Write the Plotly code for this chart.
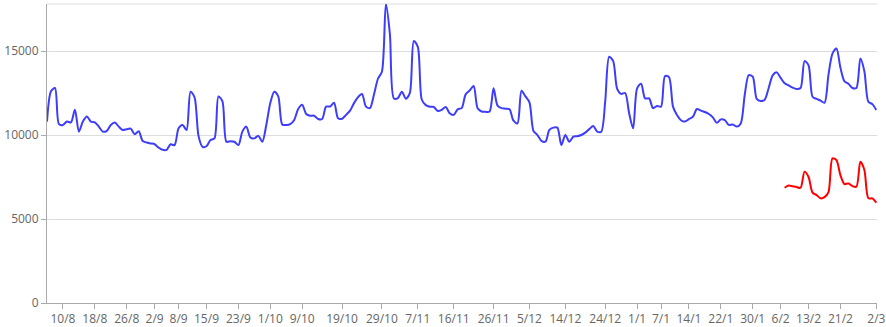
import pandas as pd
import plotly.graph_objects as go

start_date = "2022-08-06"

blue_values = [
    10.8, 12.6, 12.8, 10.65, 10.6, 10.8, 10.75, 11.5, 10.2, 10.8,
    11.1, 10.8, 10.75, 10.5, 10.2, 10.25, 10.6, 10.75, 10.5, 10.3,
    10.35, 10.38, 10.05, 10.22, 9.64, 9.55, 9.5, 9.45, 9.25, 9.12,
    9.12, 9.45, 9.4, 10.4, 10.6, 10.3, 12.58, 12.25, 9.95, 9.3,
    9.33, 9.7, 9.8, 12.3, 12.0, 9.6, 9.63, 9.6, 9.4, 10.2,
    10.5, 9.85, 9.8, 9.95, 9.6, 10.6, 11.9, 12.58, 12.3, 10.63,
    10.6, 10.65, 10.9, 11.55, 11.8, 11.25, 11.15, 11.15, 10.95, 10.95,
    11.69, 11.7, 11.92, 11.0, 10.97, 11.2, 11.45, 11.9, 12.25, 12.44,
    11.69, 11.6, 12.4, 13.35, 13.77, 17.8, 16.0, 12.18, 12.2, 12.58,
    12.16, 12.5, 15.6, 15.25, 12.1, 11.78, 11.68, 11.67, 11.43, 11.5,
    11.67, 11.29, 11.2, 11.53, 11.6, 12.42, 12.65, 12.92, 11.59, 11.4,
    11.38, 11.4, 12.78, 11.75, 11.6, 11.57, 11.53, 10.85, 10.7, 12.64,
    12.3, 11.95, 10.25, 10.0, 9.65, 9.6, 10.3, 10.44, 10.44, 9.4,
    10.0, 9.6, 9.9, 9.93, 10.0, 10.14, 10.35, 10.54, 10.2, 10.2,
    12.0, 14.66, 14.4, 12.75, 12.45, 12.5, 11.3, 10.4, 12.78, 13.05,
    12.18, 12.18, 11.6, 11.73, 11.69, 13.51, 13.45, 11.69, 11.19, 10.88,
    10.8, 10.95, 11.09, 11.55, 11.45, 11.37, 11.25, 11.05, 10.73, 10.93,
    10.89, 10.6, 10.63, 10.5, 10.69, 12.4, 13.57, 13.47, 12.15, 12.02,
    12.1, 12.8, 13.55, 13.73, 13.4, 13.08, 12.95, 12.82, 12.74, 12.8,
    14.4, 14.15, 12.28, 12.15, 12.05, 11.92, 13.6, 14.85, 15.15, 14.0,
    13.2, 13.05, 12.8, 12.8, 14.55, 13.8, 11.98, 11.84, 11.49,
]
blue_values = [v * 1000 for v in blue_values]

red_start_index = 185
red_values = [
    6.86, 7.0, 6.95, 6.9, 6.86, 7.82, 7.5, 6.57, 6.43, 6.23,
    6.3, 6.6, 8.61, 8.5, 7.6, 7.08, 7.12, 6.96, 6.92, 8.41,
    7.92, 6.23, 6.23, 5.97,
]
red_values = [v * 1000 for v in red_values]

tick_labels = ["10/8", "18/8", "26/8", "2/9", "8/9", "15/9", "23/9", "1/10", "9/10",
               "19/10", "29/10", "7/11", "16/11", "26/11", "5/12", "14/12", "24/12",
               "1/1", "7/1", "14/1", "22/1", "30/1", "6/2", "13/2", "21/2", "2/3"]

y_ticks = [0, 5000, 10000, 15000]

dates = pd.date_range(start_date, periods=len(blue_values), freq="D")
red_dates = dates[red_start_index:red_start_index + len(red_values)]


def label_to_date(lbl):
    d, m = (int(p) for p in lbl.split("/"))
    year = 2022 if m >= 8 else 2023
    return pd.Timestamp(year=year, month=m, day=d)


tick_vals = [label_to_date(t) for t in tick_labels]

fig = go.Figure()
fig.add_trace(go.Scatter(x=dates, y=blue_values, mode="lines",
                         line=dict(color="#3d3dfa", width=2, shape="spline", smoothing=0.8),
                         hoverinfo="skip", showlegend=False))
fig.add_trace(go.Scatter(x=red_dates, y=red_values, mode="lines",
                         line=dict(color="#ff0000", width=2, shape="spline", smoothing=0.8),
                         hoverinfo="skip", showlegend=False))

ymax = max(blue_values)
x_end = dates[-1] + pd.Timedelta(hours=4)
fig.update_layout(
    width=886, height=327,
    margin=dict(l=47, r=9, t=4, b=24),
    paper_bgcolor="white", plot_bgcolor="white",
    font=dict(family="Open Sans", size=12, color="#666666"),
    xaxis=dict(range=[dates[0], x_end], tickvals=tick_vals, ticktext=tick_labels,
               showgrid=False, showline=True, linecolor="#aaaaaa", linewidth=1,
               ticks="outside", ticklen=5, tickcolor="#aaaaaa", zeroline=False,
               automargin=False, tickfont=dict(size=12, color="#666666")),
    yaxis=dict(range=[0, ymax], tickvals=y_ticks, ticktext=[str(v) for v in y_ticks],
               showgrid=True, gridcolor="#dddddd",
               showline=True, linecolor="#aaaaaa", linewidth=1,
               ticks="outside", ticklen=5, tickcolor="#aaaaaa", zeroline=False,
               automargin=False, tickfont=dict(size=12, color="#666666")),
    shapes=[dict(type="line", xref="paper", yref="paper", x0=0, x1=1, y0=1, y1=1,
                 line=dict(color="#dddddd", width=1), layer="below")],
)

fig.write_html("out.html")
